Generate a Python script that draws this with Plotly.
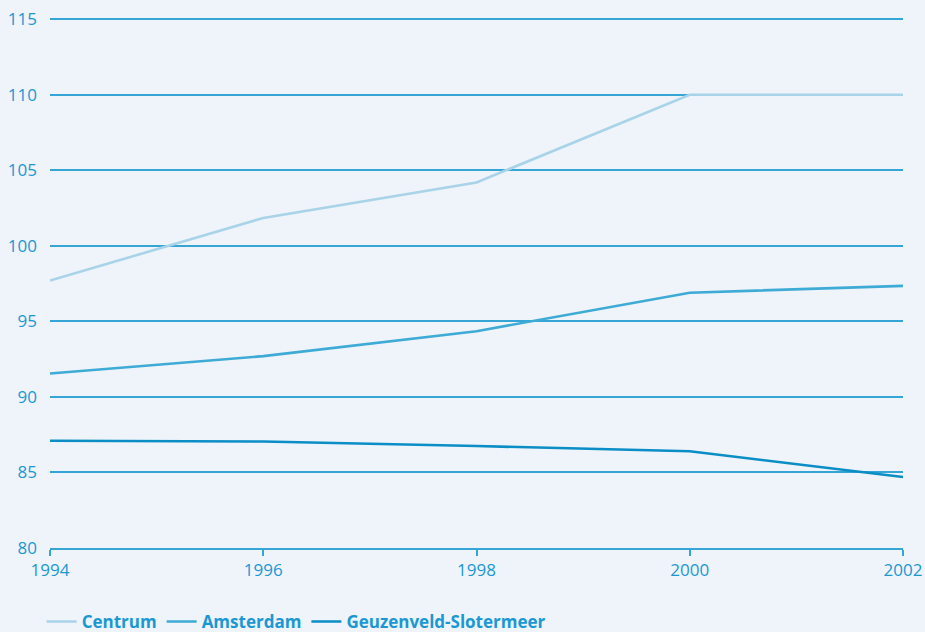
import plotly.graph_objects as go

years = [1994, 1996, 1998, 2000, 2002]
centrum = [97.7, 101.85, 104.2, 110.0, 110.0]
amsterdam = [91.55, 92.7, 94.35, 96.9, 97.35]
geuzenveld = [87.1, 87.05, 86.75, 86.4, 84.7]

names = ["Centrum", "Amsterdam", "Geuzenveld-Slotermeer"]
colors = ["#a9d3e9", "#3eaad6", "#0b8dc6"]
x_ticks = [1994, 1996, 1998, 2000, 2002]
y_ticks = [80, 85, 90, 95, 100, 105, 110, 115]

text_col = "#1b98d3"
grid_col = "#35a5d5"
bg = "#eef4f9"

fig = go.Figure()
for name, vals, col in zip(names, [centrum, amsterdam, geuzenveld], colors):
    fig.add_trace(go.Scatter(x=years, y=vals, mode="lines", name=name,
                             line=dict(color=col, width=2.6)))

fig.update_layout(
    width=925, height=632,
    paper_bgcolor=bg, plot_bgcolor=bg,
    margin=dict(l=50, r=22, t=17, b=84, autoexpand=False),
    font=dict(family="Open Sans, Lato, sans-serif", color=text_col, size=17),
    showlegend=True,
    legend=dict(orientation="h", x=0.045, xref="container", xanchor="left",
                y=0.016, yref="container", yanchor="middle",
                font=dict(size=17, color=text_col, family="Open Sans, sans-serif", weight="bold"),
                itemwidth=30, traceorder="normal", bgcolor="rgba(0,0,0,0)"),
    xaxis=dict(range=[1994, 2002], tickvals=x_ticks, ticktext=[str(v) for v in x_ticks],
               showgrid=False, zeroline=False, showline=True, linecolor=grid_col, linewidth=1.5,
               ticks="outside", ticklen=6, tickcolor=grid_col, tickwidth=1.5,
               tickfont=dict(size=17, color=text_col), automargin=False),
    yaxis=dict(range=[80, 115.15], tickvals=y_ticks, showgrid=True, gridcolor=grid_col, gridwidth=1.5,
               zeroline=False, showline=False, ticks="", ticklabelstandoff=12,
               tickfont=dict(size=17, color=text_col), automargin=False),
)

fig.write_html("out.html")
